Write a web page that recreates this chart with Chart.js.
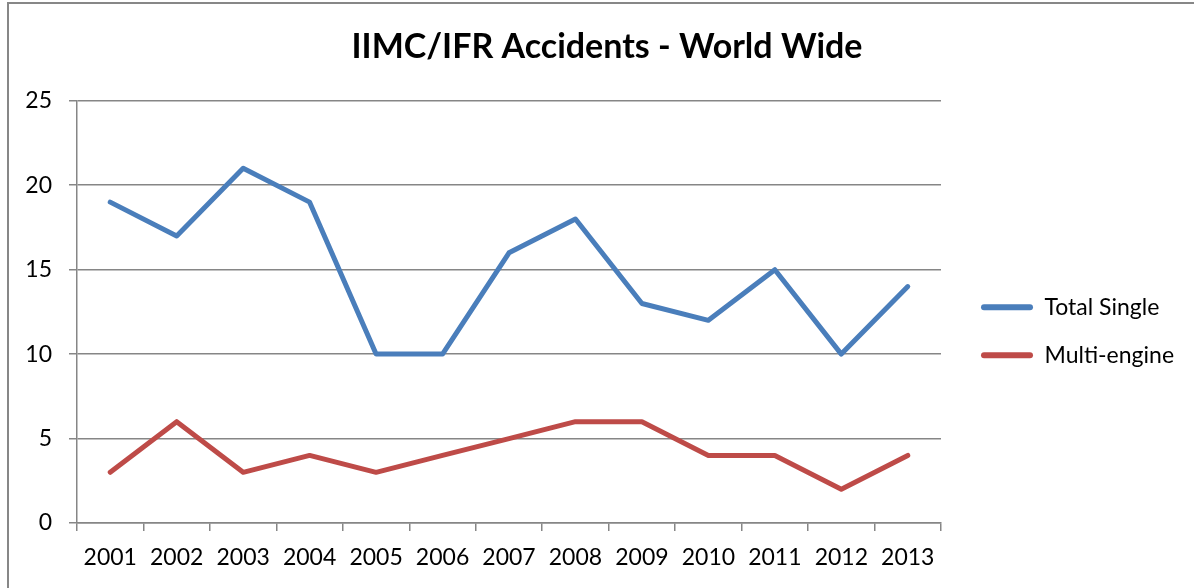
<!DOCTYPE html>
<html>
<head>
<meta charset="utf-8">
<script src="https://cdn.jsdelivr.net/npm/chart.js@4"></script>
<style>
  html, body { margin: 0; padding: 0; background: #fff; overflow: hidden; }
  #frame { position: absolute; left: 7px; top: 2px; width: 1300px; height: 700px;
           border-top: 2px solid #878787; border-left: 2px solid #878787; }
  #accidentChart { position: absolute; left: 0; top: 0; }
</style>
</head>
<body>
<div id="frame"></div>
<canvas id="accidentChart" width="1194" height="588"></canvas>
<script>
const years = ['2001', '2002', '2003', '2004', '2005', '2006', '2007', '2008', '2009', '2010', '2011', '2012', '2013'];
const totalSingle = [19, 17, 21, 19, 10, 10, 16, 18, 13, 12, 15, 10, 14];
const multiEngine = [3, 6, 3, 4, 3, 4, 5, 6, 6, 4, 4, 2, 4];
const yTicks = [0, 5, 10, 15, 20, 25];

const gridColor = '#868686';
const font = 'Lato';

function legendLabels(chart) {
    const items = Chart.defaults.plugins.legend.labels.generateLabels(chart);
    return items.map(item => ({ ...item, lineWidth: 0, fillStyle: item.strokeStyle }));
}

// keep the legend column wide enough so the title stays centred on the whole frame
const legendWidthPlugin = {
    id: 'legendWidth',
    beforeLayout(chart) {
        const lg = chart.legend;
        if (lg && !lg._fixedWidth) {
            const fit = lg.fit.bind(lg);
            lg.fit = function () {
                fit();
                this.width = 238;
            };
            lg._fixedWidth = true;
        }
    }
};

const ctx = document.getElementById('accidentChart').getContext('2d');
new Chart(ctx, {
    type: 'line',
    data: {
        labels: years,
        datasets: [
            {
                label: 'Total Single',
                data: totalSingle,
                borderColor: '#4a7ebb',
                backgroundColor: '#4a7ebb',
                borderWidth: 5,
                pointRadius: 0,
                borderCapStyle: 'round',
                borderJoinStyle: 'round',
                tension: 0
            },
            {
                label: 'Multi-engine',
                data: multiEngine,
                borderColor: '#be4b48',
                backgroundColor: '#be4b48',
                borderWidth: 5,
                pointRadius: 0,
                borderCapStyle: 'round',
                borderJoinStyle: 'round',
                tension: 0
            }
        ]
    },
    plugins: [legendWidthPlugin],
    options: {
        responsive: false,
        animation: false,
        layout: { padding: { left: 20, right: 0, top: 0, bottom: 0 } },
        plugins: {
            title: {
                display: true,
                text: 'IIMC/IFR Accidents - World Wide',
                color: '#000',
                font: { family: font, size: 34, weight: 'bold', lineHeight: 1.2 },
                padding: { top: 27, bottom: 33 }
            },
            legend: {
                position: 'right',
                align: 'center',
                title: { display: true, text: ' ', font: { size: 2 }, padding: { top: 72, bottom: 0 } },
                labels: {
                    color: '#000',
                    font: { family: font, size: 23 },
                    boxWidth: 52,
                    boxHeight: 6,
                    useBorderRadius: true,
                    borderRadius: 3,
                    padding: 25,
                    generateLabels: legendLabels
                }
            },
            tooltip: { enabled: false }
        },
        scales: {
            x: {
                offset: true,
                grid: {
                    offset: true,
                    drawOnChartArea: false,
                    drawTicks: true,
                    tickLength: 8,
                    color: gridColor,
                    lineWidth: 1.5
                },
                border: { display: true, color: gridColor, width: 1.5 },
                ticks: { color: '#000', font: { family: font, size: 23 }, padding: 13, maxRotation: 0 },
                afterFit: scale => { scale.height = 65; }
            },
            y: {
                min: 0,
                max: 25,
                afterBuildTicks: scale => { scale.ticks = yTicks.map(v => ({ value: v })); },
                grid: { color: gridColor, lineWidth: 1.5, tickLength: 8 },
                border: { display: true, color: gridColor, width: 1.5 },
                ticks: { color: '#000', font: { family: font, size: 23 }, padding: 17 },
                afterFit: scale => { scale.width = 57; }
            },
            spacer: {
                position: 'right',
                display: true,
                grid: { display: false },
                border: { display: false },
                ticks: { display: false },
                afterFit: scale => { scale.width = 15; }
            }
        }
    }
});
</script>
</body>
</html>
